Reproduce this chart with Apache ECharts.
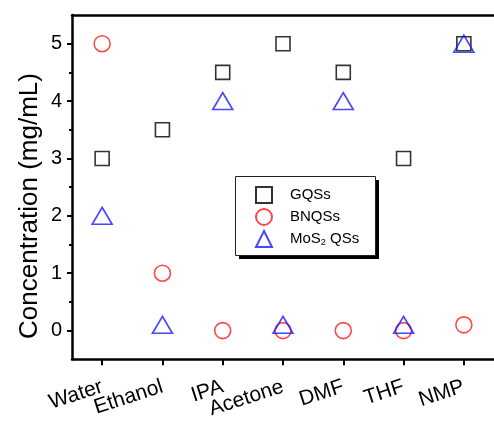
<!DOCTYPE html>
<html>
<head>
<meta charset="utf-8">
<script src="https://cdn.jsdelivr.net/npm/echarts@6/dist/echarts.min.js"></script>
<style>
  html, body { margin: 0; padding: 0; background: #fff; }
  #chart { width: 494px; height: 421px; }
</style>
</head>
<body>
<div id="chart"></div>
<script>
// Solvents and measured concentrations (mg/mL) for each quantum-sheet type
const solvents = ['Water', 'Ethanol', 'IPA', 'Acetone', 'DMF', 'THF', 'NMP'];
const gqsValues = [3, 3.5, 4.5, 5, 4.5, 3, 5];
const bnqsValues = [5, 1, 0, 0, 0, 0, 0.1];
const mos2Values = [2, 0.1, 4, 0.1, 4, 0.1, 5];

// Y axis range and tick positions
const yMin = -0.5;
const yMax = 5.5;
const yMajorTicks = [0, 1, 2, 3, 4, 5];
const yMinorTicks = [0.5, 1.5, 2.5, 3.5, 4.5];

const yTitle = 'Concentration (mg/mL)';

const FONT = '"Liberation Sans", Arial, sans-serif';
const BLACK = '#000';

const chart = echarts.init(document.getElementById('chart'), null, { renderer: 'canvas' });

const option = {
  animation: false,
  backgroundColor: '#fff',
  grid: { left: 72, top: 15, width: 427, height: 347 },
  graphic: [
    // legend frame with a solid drop shadow
    { type: 'rect', z: 1, shape: { x: 239, y: 180, width: 140, height: 79 }, style: { fill: '#000' } },
    { type: 'rect', z: 2, shape: { x: 235.5, y: 176.5, width: 140, height: 79 }, style: { fill: '#fff', stroke: '#222', lineWidth: 1 } },
    // vertical axis title
    {
      type: 'text', z: 3,
      x: 30, y: 206, rotation: Math.PI / 2,
      style: {
        text: yTitle, fill: BLACK, fontFamily: FONT, fontSize: 26,
        align: 'center', verticalAlign: 'middle'
      }
    }
  ],
  legend: {
    orient: 'vertical',
    left: 255,
    top: 186,
    padding: 0,
    itemWidth: 16,
    itemHeight: 16,
    itemGap: 4,
    z: 5,
    selectedMode: false,
    data: ['GQSs', 'BNQSs', 'MoS2 QSs'],
    formatter: function (name) {
      const label = name === 'MoS2 QSs' ? 'MoS{sub|2} QSs' : name;
      return '{sp|}' + label;
    },
    textStyle: {
      fontFamily: FONT,
      fontSize: 15,
      color: BLACK,
      rich: {
        sp: { width: 13 },
        sub: { fontFamily: FONT, fontSize: 9, color: BLACK, verticalAlign: 'bottom', padding: [8, 0, 0, 0] }
      }
    }
  },
  xAxis: [
    {
      type: 'category',
      data: solvents,
      boundaryGap: true,
      position: 'bottom',
      axisLine: { onZero: false, lineStyle: { color: BLACK, width: 2.5 } },
      axisTick: { show: true, interval: 0, alignWithLabel: true, inside: false, length: 6, lineStyle: { color: BLACK, width: 2 } },
      axisLabel: { rotate: 18, margin: 27, fontFamily: FONT, fontSize: 21, color: BLACK, interval: 0 },
      splitLine: { show: false }
    },
    {
      type: 'category',
      data: solvents,
      position: 'top',
      axisLine: { onZero: false, lineStyle: { color: BLACK, width: 2.5 } },
      axisTick: { show: false },
      axisLabel: { show: false },
      splitLine: { show: false }
    }
  ],
  yAxis: [
    {
      type: 'value',
      min: yMin,
      max: yMax,
      position: 'left',
      axisLine: { show: true, onZero: false, lineStyle: { color: BLACK, width: 2.5 } },
      axisTick: { show: true, length: 5, customValues: yMajorTicks, lineStyle: { color: BLACK, width: 2 } },
      axisLabel: { margin: 10, fontFamily: FONT, fontSize: 20, color: BLACK, customValues: yMajorTicks },
      splitLine: { show: false }
    },
    {
      type: 'value',
      min: yMin,
      max: yMax,
      position: 'left',
      axisLine: { show: false, onZero: false },
      axisTick: { show: true, length: 3, customValues: yMinorTicks, lineStyle: { color: BLACK, width: 2 } },
      axisLabel: { show: false },
      splitLine: { show: false }
    }
  ],
  series: [
    {
      name: 'GQSs',
      type: 'scatter',
      xAxisIndex: 0, yAxisIndex: 0,
      symbol: 'rect',
      symbolSize: 14,
      itemStyle: { color: 'rgba(255,255,255,0)', borderColor: '#000', borderWidth: 1.6 },
      data: gqsValues,
      z: 3
    },
    {
      name: 'BNQSs',
      type: 'scatter',
      xAxisIndex: 0, yAxisIndex: 0,
      symbol: 'circle',
      symbolSize: 16,
      itemStyle: { color: 'rgba(255,255,255,0)', borderColor: '#ff1a1a', borderWidth: 1.6 },
      data: bnqsValues,
      z: 4
    },
    {
      name: 'MoS2 QSs',
      type: 'scatter',
      xAxisIndex: 0, yAxisIndex: 0,
      symbol: 'triangle',
      symbolSize: [20, 17],
      itemStyle: { color: 'rgba(255,255,255,0)', borderColor: '#1a1aff', borderWidth: 1.6 },
      data: mos2Values,
      z: 5
    }
  ]
};

chart.setOption(option);
</script>
</body>
</html>
